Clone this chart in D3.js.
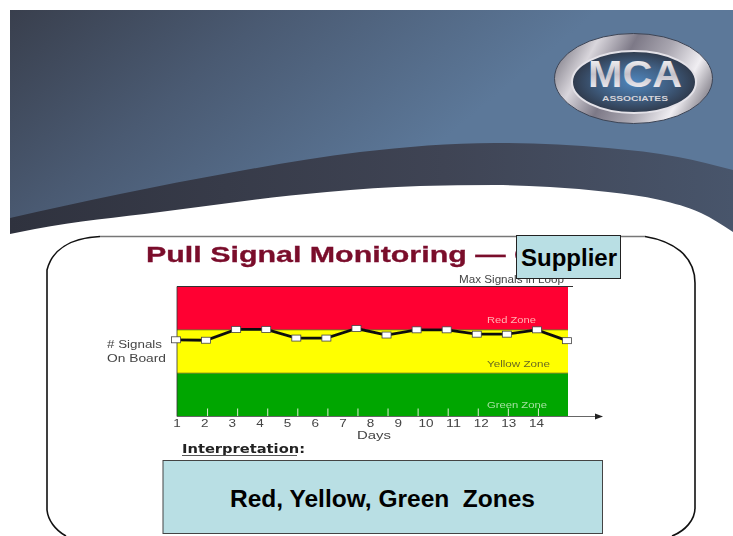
<!DOCTYPE html>
<html>
<head>
<meta charset="utf-8">
<title>Pull Signal Monitoring</title>
<script src="https://cdn.jsdelivr.net/npm/d3@7"></script>
<style>
  html, body { margin: 0; padding: 0; background: #fff; }
  svg { display: block; }
  text { font-family: "Liberation Sans", Arial, sans-serif; white-space: pre; }
</style>
</head>
<body>
<svg id="chart" width="733" height="536"></svg>
<script>
// values
const days = [1, 2, 3, 4, 5, 6, 7, 8, 9, 10, 11, 12, 13, 14];
const signals = [17.7, 17.6, 20.1, 20.1, 18.1, 18.1, 20.3, 18.8, 20, 20, 19, 19, 20, 17.5];
const zoneNames = ['Green', 'Yellow', 'Red'];
const zoneStart = [0, 10, 20];
const zoneEnd = [10, 20, 30];
const zoneColors = ['#00a600', '#ffff00', '#ff0030'];
const dayLabels = days.map(String);

const svg = d3.select('#chart');
const defs = svg.append('defs');

function gradient(id, x1, y1, x2, y2, stops) {
    const g = defs.append('linearGradient')
        .attr('id', id)
        .attr('gradientUnits', 'userSpaceOnUse')
        .attr('x1', x1).attr('y1', y1).attr('x2', x2).attr('y2', y2);
    stops.forEach(s => g.append('stop').attr('offset', s[0]).attr('stop-color', s[1]));
}

gradient('bg', 10, 10, 250, 300, [[0, '#393f4d'], [0.45, '#4a5a72'], [1, '#5c7899']]);
gradient('band', 10, 0, 733, 0, [[0, '#2f323e'], [0.6, '#3f4454'], [1, '#48556b']]);
gradient('ring', 560, 40, 705, 120, [[0, '#77747f'], [0.2, '#d9d6dc'], [0.4, '#7d7987'],
    [0.6, '#a9a6b0'], [0.8, '#f0eef2'], [1, '#66636e']]);
gradient('letters', 0, 55, 0, 90, [[0, '#ffffff'], [0.55, '#c4c1c9'], [1, '#f2f0f5']]);

const core = defs.append('radialGradient').attr('id', 'core');
core.append('stop').attr('offset', 0).attr('stop-color', '#4f86bd');
core.append('stop').attr('offset', 0.6).attr('stop-color', '#3f5c7e');
core.append('stop').attr('offset', 1).attr('stop-color', '#2f3a4c');

const soft = defs.append('filter').attr('id', 'soft');
soft.append('feGaussianBlur').attr('stdDeviation', 0.45);

// header
const curve = d3.line().curve(d3.curveMonotoneX);
const bandTop = [[10, 218], [120, 194], [234, 172], [360, 152], [495, 143], [608, 148], [678, 157], [733, 170]];
const bandBottom = [[10, 234], [35, 229], [160, 212], [327, 192], [420, 186], [495, 185], [550, 187], [608, 192], [660, 200], [701, 213], [733, 232]];

svg.append('rect')
    .attr('x', 10).attr('y', 10).attr('width', 723).attr('height', 226)
    .attr('fill', 'url(#bg)');
svg.append('path')
    .attr('d', curve(bandTop) + 'L733,240L10,240Z')
    .attr('fill', 'url(#band)');
svg.append('path')
    .attr('d', curve(bandBottom) + 'L733,240L0,240L0,234Z')
    .attr('fill', '#fff');
svg.append('rect')
    .attr('x', 0).attr('y', 235).attr('width', 733).attr('height', 301)
    .attr('fill', '#fff');

// logo
const logo = svg.append('g');
logo.append('ellipse')
    .attr('cx', 633.5).attr('cy', 78.5).attr('rx', 79).attr('ry', 45)
    .attr('fill', 'url(#ring)').attr('stroke', '#3d4556').attr('stroke-width', 1);
logo.append('ellipse')
    .attr('cx', 634).attr('cy', 82).attr('rx', 62).attr('ry', 31)
    .attr('fill', 'url(#core)').attr('stroke', '#e4e2e8').attr('stroke-width', 2);
logo.append('text')
    .attr('x', 588).attr('y', 87)
    .attr('textLength', 94).attr('lengthAdjust', 'spacingAndGlyphs')
    .attr('font-size', 37).attr('font-weight', 'bold')
    .attr('fill', 'url(#letters)')
    .text('MCA');
logo.append('text')
    .attr('x', 602).attr('y', 100.5)
    .attr('textLength', 66).attr('lengthAdjust', 'spacingAndGlyphs')
    .attr('font-size', 7.5).attr('font-weight', 'bold')
    .attr('fill', '#d5d4da')
    .text('ASSOCIATES');

// rounded frame: grey along the top, black down the sides, clipped by the page bottom
const frameTop = d3.path();
frameTop.moveTo(100, 236.5);
frameTop.lineTo(645, 236.5);
svg.append('path')
    .attr('d', frameTop.toString())
    .attr('fill', 'none').attr('stroke', '#777').attr('stroke-width', 1.6);
const frameRight = d3.path();
frameRight.moveTo(645, 236.5);
frameRight.bezierCurveTo(672, 241, 695, 255, 695, 283);
frameRight.lineTo(695, 508);
frameRight.bezierCurveTo(695, 520, 685, 531, 672, 536);
svg.append('path')
    .attr('d', frameRight.toString())
    .attr('fill', 'none').attr('stroke', '#111').attr('stroke-width', 1.6);
const frameLeft = d3.path();
frameLeft.moveTo(100, 236.5);
frameLeft.bezierCurveTo(70, 238, 52, 250, 47, 270);
frameLeft.lineTo(47, 510);
frameLeft.bezierCurveTo(48, 520, 55, 530, 66, 536);
svg.append('path')
    .attr('d', frameLeft.toString())
    .attr('fill', 'none').attr('stroke', '#111').attr('stroke-width', 1.6);

const slide = svg.append('g').attr('filter', 'url(#soft)');

// title, its last letters sit under the Supplier box
slide.append('text')
    .attr('x', 146).attr('y', 262)
    .attr('textLength', 390).attr('lengthAdjust', 'spacingAndGlyphs')
    .attr('font-size', 22).attr('font-weight', 'bold')
    .attr('fill', '#7a0a2c')
    .attr('stroke', '#7a0a2c').attr('stroke-width', 0.3)
    .text('Pull Signal Monitoring \u2014 C');

// scales
const x = d3.scaleLinear().domain([1, 14]).range([177, 568]);
const labelX = d3.scalePoint().domain(dayLabels).range([176.5, 536]);
const y = d3.scaleLinear().domain([0, 30]).range([416.5, 286.5]);

// zones
slide.selectAll('.zone')
    .data(zoneNames)
    .join('rect')
    .attr('class', 'zone')
    .attr('x', x(1))
    .attr('width', x(14) - x(1))
    .attr('y', (d, i) => y(zoneEnd[i]))
    .attr('height', (d, i) => y(zoneStart[i]) - y(zoneEnd[i]))
    .attr('fill', (d, i) => zoneColors[i]);

// thin dark lines along the zone limits
slide.selectAll('.limit')
    .data(zoneStart.slice(1))
    .join('line')
    .attr('class', 'limit')
    .attr('x1', x(1)).attr('x2', x(14))
    .attr('y1', d => y(d)).attr('y2', d => y(d))
    .attr('stroke', '#556b10').attr('stroke-width', 0.8);
slide.append('line')
    .attr('x1', x(1)).attr('x2', 573)
    .attr('y1', y(30)).attr('y2', y(30))
    .attr('stroke', '#333').attr('stroke-width', 1);
slide.append('line')
    .attr('x1', x(1)).attr('x2', x(1))
    .attr('y1', y(30)).attr('y2', y(0))
    .attr('stroke', '#333').attr('stroke-width', 0.8);

// tick marks inside the green zone
const tickAxis = d3.axisBottom(x)
    .tickValues(days.slice(1, -1))
    .tickSizeInner(-8)
    .tickSizeOuter(0)
    .tickFormat('');
const tickG = slide.append('g')
    .attr('transform', `translate(0,${y(0)})`)
    .call(tickAxis);
tickG.select('.domain').remove();
tickG.selectAll('line').attr('stroke', '#dcefd0').attr('stroke-width', 1);

// axis line and arrow
slide.append('line')
    .attr('x1', x(1)).attr('x2', 597)
    .attr('y1', y(0)).attr('y2', y(0))
    .attr('stroke', '#666').attr('stroke-width', 1);
slide.append('path')
    .attr('d', `M595,${y(0) - 3}L603,${y(0)}L595,${y(0) + 3}Z`)
    .attr('fill', '#222');

// day labels, stretched wide as on the slide
const labelAxis = d3.axisBottom(labelX).tickSize(0).tickPadding(0);
const labelG = slide.append('g')
    .attr('transform', `translate(0,${y(0) + 3.5})`)
    .call(labelAxis);
labelG.select('.domain').remove();
labelG.selectAll('text')
    .attr('font-family', '"Liberation Sans", Arial, sans-serif')
    .attr('font-size', 10)
    .attr('fill', '#444')
    .attr('textLength', d => d.length * 7.5)
    .attr('lengthAdjust', 'spacingAndGlyphs');

// signal line
const signalLine = d3.line()
    .x((d, i) => x(days[i]) - 1)
    .y(d => y(d));
slide.append('path')
    .datum(signals)
    .attr('d', signalLine)
    .attr('fill', 'none')
    .attr('stroke', '#111')
    .attr('stroke-width', 2.8);
slide.selectAll('.marker')
    .data(signals)
    .join('rect')
    .attr('class', 'marker')
    .attr('x', (d, i) => x(days[i]) - 5.5)
    .attr('y', d => y(d) - 3)
    .attr('width', 9)
    .attr('height', 6)
    .attr('fill', '#fff')
    .attr('stroke', '#444')
    .attr('stroke-width', 0.8);

// small labels
function label(txt, lx, ly, w, size, color, weight) {
    return slide.append('text')
        .attr('x', lx).attr('y', ly)
        .attr('textLength', w).attr('lengthAdjust', 'spacingAndGlyphs')
        .attr('font-size', size)
        .attr('font-weight', weight || 'normal')
        .attr('fill', color)
        .text(txt);
}
label('Max Signals in Loop', 459, 283, 105, 10, '#444');
label('Red Zone', 487, 323, 49, 9.5, '#ffb4b4');
label('Yellow Zone', 487, 367, 63, 9.5, '#6b6b20');
label('Green Zone', 487, 408, 60, 9.5, '#a4e0a0');
label('# Signals', 107, 348, 55, 10.5, '#444');
label('On Board', 107, 362, 59, 10.5, '#444');
label('Days', 357, 439, 34, 10.5, '#444');

// interpretation
label('Interpretation:', 182, 453, 123, 12, '#222', 'bold')
    .style('font-family', '"DejaVu Sans", sans-serif');
slide.append('line')
    .attr('x1', 182).attr('x2', 297)
    .attr('y1', 455.5).attr('y2', 455.5)
    .attr('stroke', '#555').attr('stroke-width', 1);

// callout boxes
svg.append('rect')
    .attr('x', 516.5).attr('y', 235.5).attr('width', 104).attr('height', 43)
    .attr('fill', '#b9dfe4').attr('stroke', '#222').attr('stroke-width', 1);
svg.append('text')
    .attr('x', 521).attr('y', 266)
    .attr('font-size', 24).attr('font-weight', 'bold')
    .attr('fill', '#000')
    .text('Supplier');

svg.append('rect')
    .attr('x', 163).attr('y', 460.5).attr('width', 439.5).attr('height', 73)
    .attr('fill', '#b9dfe4').attr('stroke', '#444').attr('stroke-width', 1);
svg.append('text')
    .attr('x', 230).attr('y', 507)
    .attr('textLength', 305).attr('lengthAdjust', 'spacingAndGlyphs')
    .attr('font-size', 23).attr('font-weight', 'bold')
    .attr('fill', '#000')
    .text('Red, Yellow, Green  Zones');
</script>
</body>
</html>
